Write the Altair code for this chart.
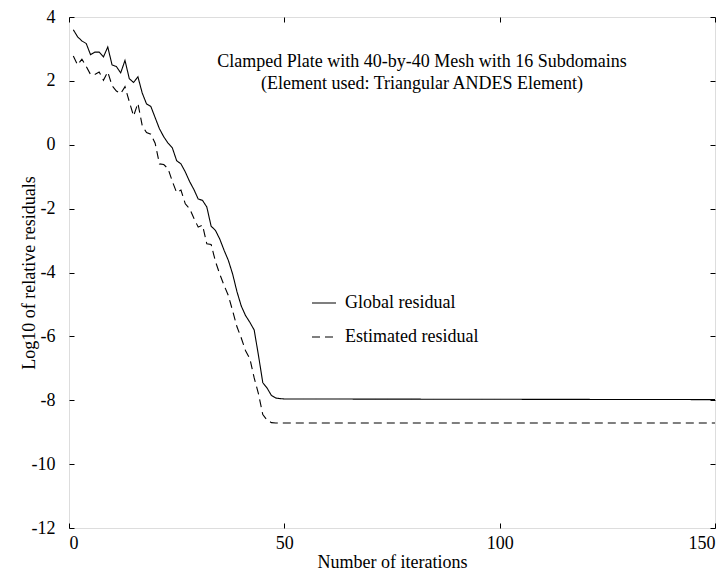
import altair as alt
import pandas as pd

# ---- data ----
global_iters = list(range(1, 51)) + [150]
global_res = [3.60, 3.38, 3.25, 3.17, 2.82, 2.90, 2.90, 2.75, 3.06, 2.50,
              2.45, 2.25, 2.64, 2.07, 1.95, 2.13, 1.62, 1.28, 1.20, 0.85,
              0.50, 0.25, 0.05, -0.10, -0.50, -0.60, -0.85, -1.15, -1.40, -1.70,
              -1.74, -1.95, -2.55, -2.68, -2.95, -3.30, -3.62, -4.05, -4.60, -5.05,
              -5.35, -5.56, -5.80, -6.60, -7.45, -7.62, -7.85, -7.93, -7.95, -7.96,
              -7.98]

est_iters = list(range(1, 49)) + [150]
est_res = [2.78, 2.50, 2.68, 2.45, 2.20, 2.20, 2.28, 2.02, 2.28, 1.85,
           1.68, 1.60, 1.82, 1.35, 0.90, 1.30, 0.60, 0.38, 0.33, 0.05,
           -0.60, -0.62, -0.75, -1.15, -1.50, -1.42, -1.85, -2.00, -2.30, -2.58,
           -2.52, -3.10, -3.12, -3.65, -4.05, -4.40, -4.72, -5.20, -5.70, -6.05,
           -6.45, -6.70, -7.30, -7.80, -8.45, -8.62, -8.70, -8.71,
           -8.71]

series_names = ["Global residual", "Estimated residual"]
x_ticks = [0, 50, 100, 150]
y_ticks = [-12, -10, -8, -6, -4, -2, 0, 2, 4]
title_lines = ["Clamped Plate with 40-by-40 Mesh with 16 Subdomains",
               "(Element used: Triangular ANDES Element)"]

df = pd.concat([
    pd.DataFrame({"iter": global_iters, "value": global_res, "series": series_names[0], "order": 0}),
    pd.DataFrame({"iter": est_iters, "value": est_res, "series": series_names[1], "order": 1}),
], ignore_index=True)

FONT = "Liberation Serif"
HYPHEN_LABEL = "datum.value < 0 ? '-' + abs(datum.value) : '' + datum.value"

xscale = alt.Scale(domain=[0, 150], nice=False, zero=False)
yscale = alt.Scale(domain=[-12, 4], nice=False, zero=False)

lines = alt.Chart(df).mark_line(color="black", strokeWidth=1.1, clip=True).encode(
    x=alt.X("iter:Q", scale=xscale,
            axis=alt.Axis(values=x_ticks, title="Number of iterations", orient="bottom",
                          offset=-5, tickSize=5, domain=False, grid=False,
                          labelPadding=6, tickColor="black", labelColor="black",
                          titleColor="black", titleFontWeight="normal",
                          labelFontSize=18, titleFontSize=18, titlePadding=1,
                          labelFont=FONT, titleFont=FONT)),
    y=alt.Y("value:Q", scale=yscale,
            axis=alt.Axis(values=y_ticks, title="Log10 of relative residuals", orient="left",
                          offset=-5, tickSize=5, domain=False, grid=False,
                          labelPadding=14, tickColor="black", labelColor="black",
                          labelExpr=HYPHEN_LABEL,
                          titleColor="black", titleFontWeight="normal",
                          labelFontSize=18, titleFontSize=18, titlePadding=-7,
                          labelFont=FONT, titleFont=FONT)),
    strokeDash=alt.StrokeDash("series:N",
                              scale=alt.Scale(domain=series_names, range=[[1, 0], [8, 5]]),
                              legend=alt.Legend(title=None, orient="none", legendX=242, legendY=273,
                                                symbolType="stroke", symbolSize=576,
                                                symbolStrokeColor="black", symbolStrokeWidth=1.1,
                                                labelFont=FONT, labelFontSize=18, labelColor="black",
                                                labelOffset=8, rowPadding=12)),
    order="order:Q",
)

frame_axes = alt.Chart(df).mark_point(opacity=0).encode(
    x=alt.X("iter:Q", scale=xscale,
            axis=alt.Axis(values=x_ticks, title=None, orient="top", labels=False,
                          offset=-5, tickSize=5, domain=False, grid=False, tickColor="black")),
    y=alt.Y("value:Q", scale=yscale,
            axis=alt.Axis(values=y_ticks, title=None, orient="right", labels=False,
                          offset=-5, tickSize=5, domain=False, grid=False, tickColor="black")),
)

chart = alt.layer(lines, frame_axes).resolve_axis(x="independent", y="independent").properties(
    width=646, height=511,
    autosize=alt.AutoSizeParams(type="none"),
    padding={"left": 61, "top": 9, "right": 5, "bottom": 46},
    title=alt.TitleParams(text=title_lines, anchor="middle", orient="top", offset=0,
                          baseline="top", dx=30, dy=85, fontSize=18, lineHeight=22,
                          font=FONT, fontWeight="normal", color="black"),
).configure_view(stroke="black", strokeWidth=1.2).configure(background="white")

chart.save("out.html", embed_options={"renderer": "svg", "actions": False})
